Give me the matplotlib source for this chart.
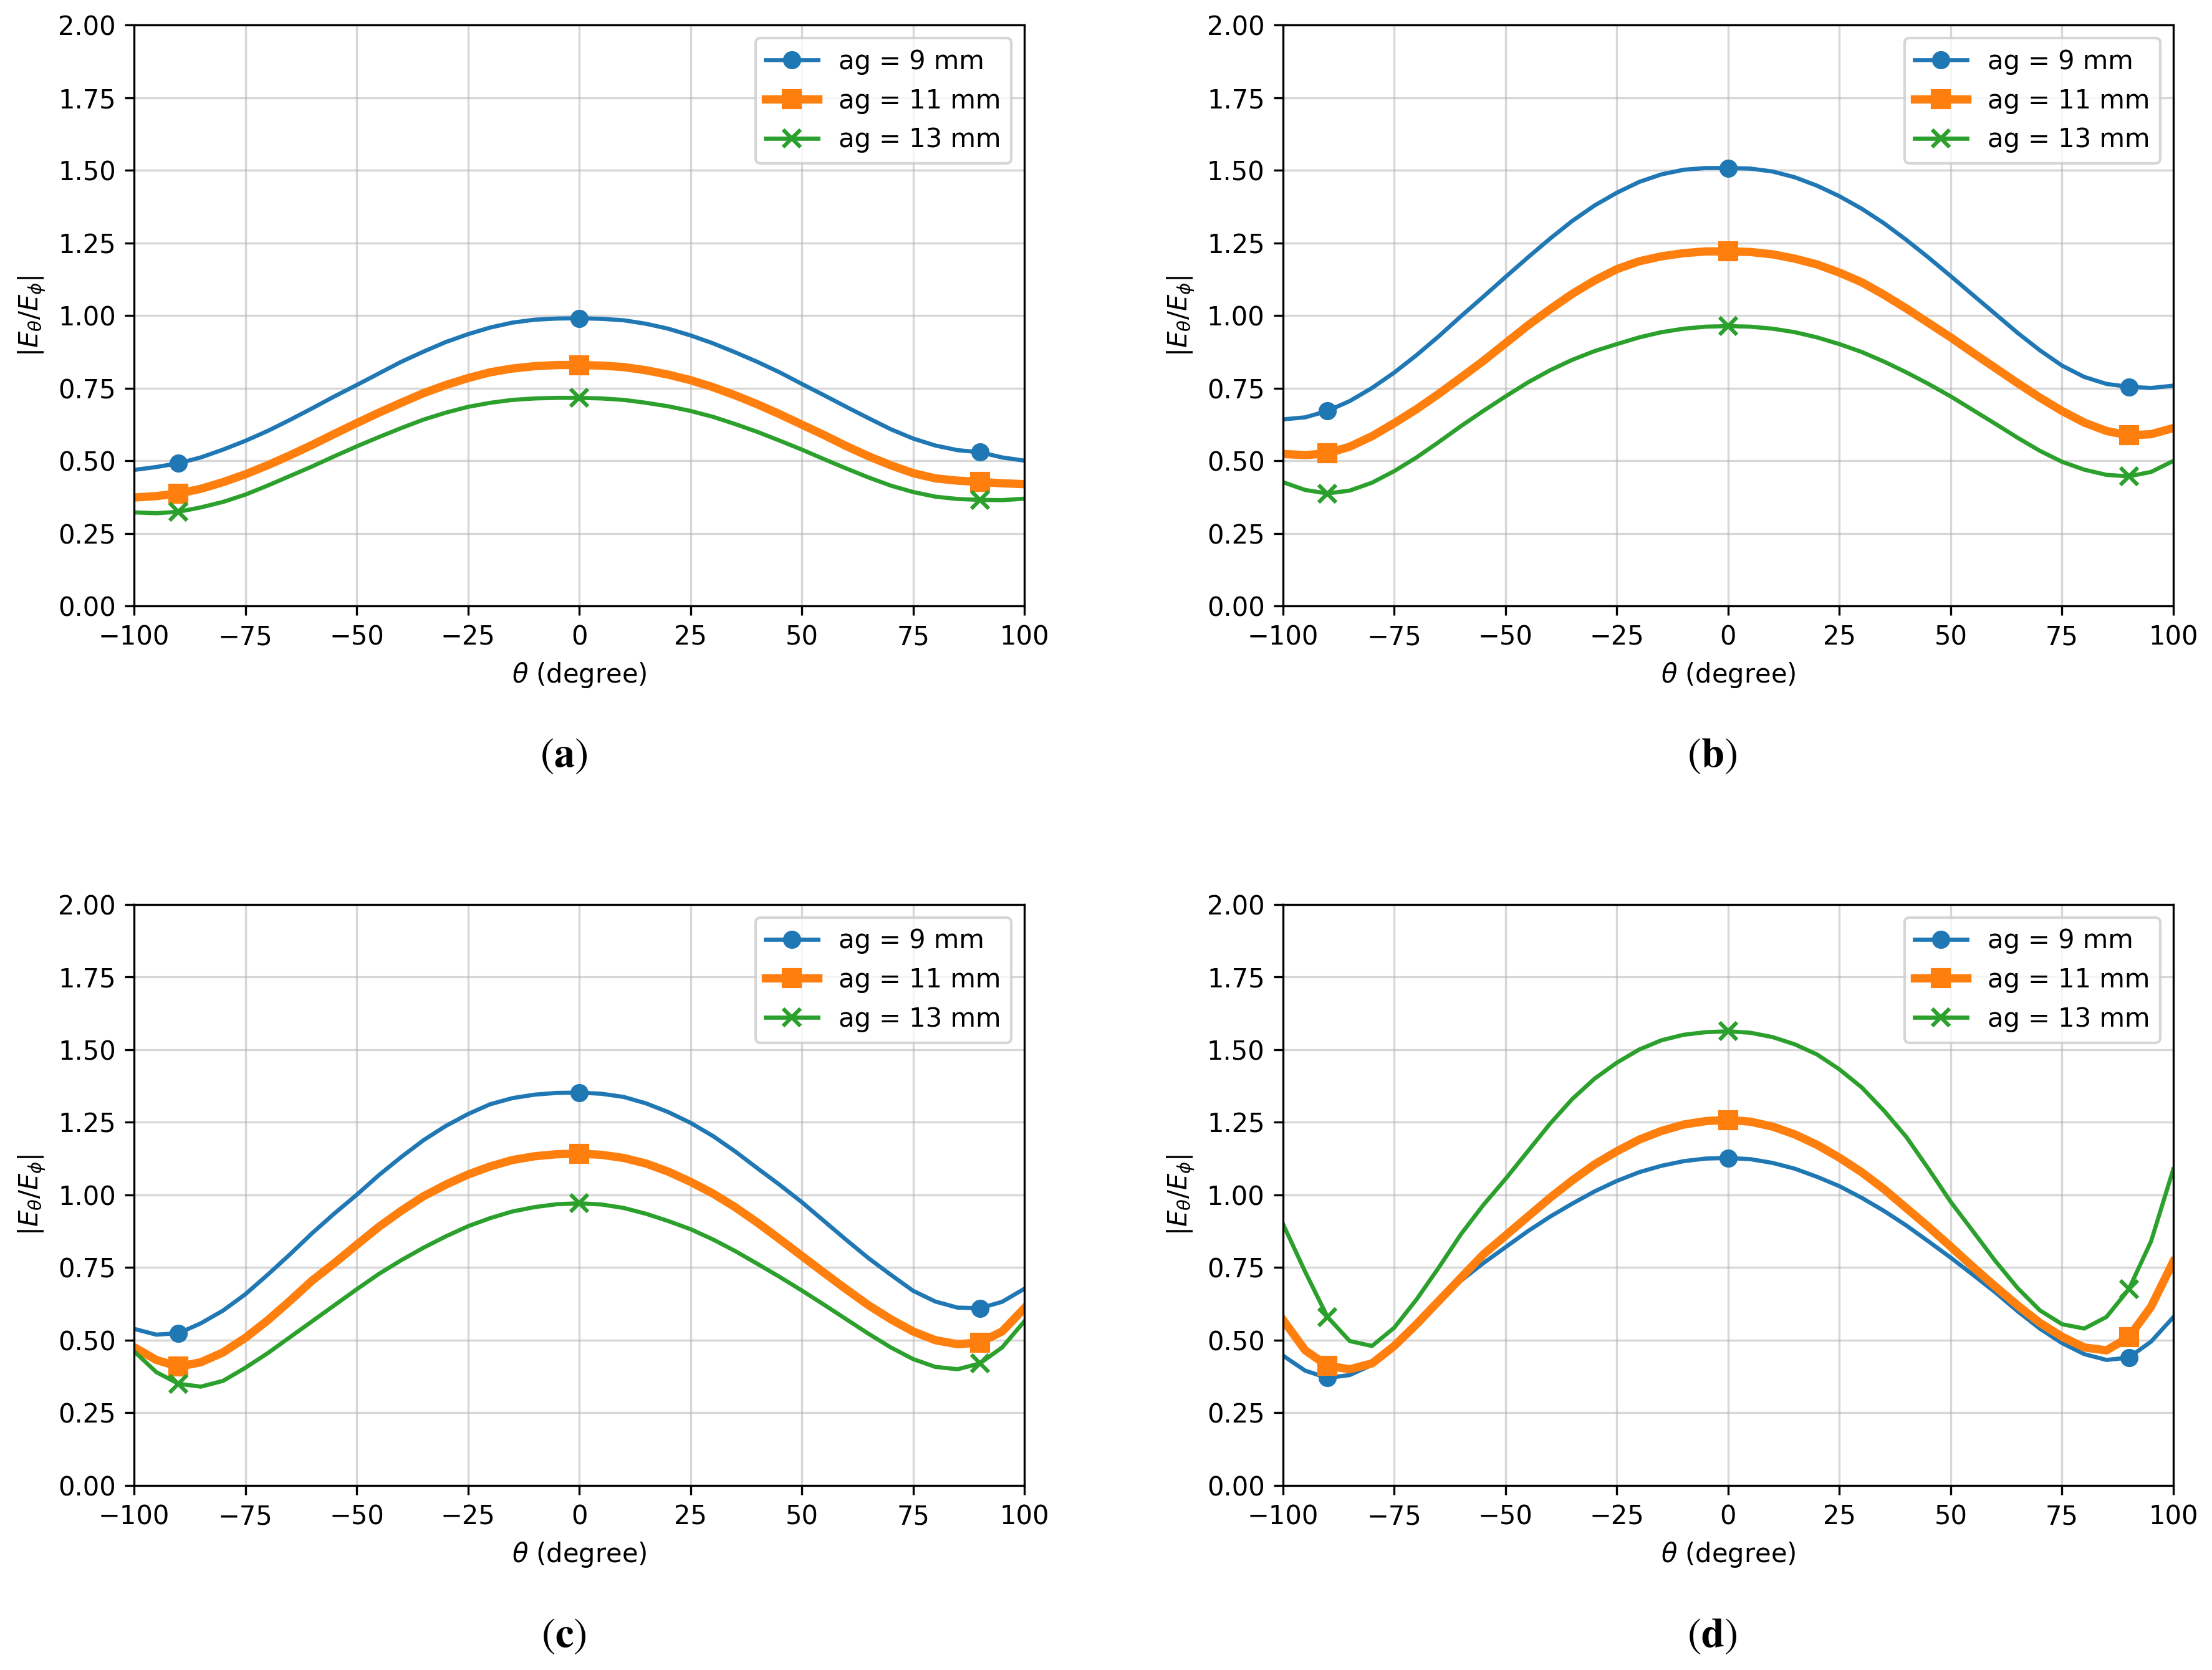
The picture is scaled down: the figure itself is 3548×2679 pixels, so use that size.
"""
Relación |E_theta / E_phi| frente a theta para tres valores de ag (paneles a-d)
"""

import matplotlib
matplotlib.use('Agg')
import matplotlib.pyplot as plt


# Ángulos muestreados cada 5 grados, de -100 a 100
theta = list(range(-100, 105, 5))

labels = ['ag = 9 mm', 'ag = 11 mm', 'ag = 13 mm']
panel_tags = ['a', 'b', 'c', 'd']

# Panel (a)
a_9mm = [0.469, 0.479, 0.492, 0.512, 0.539, 0.569, 0.603, 0.641, 0.681, 0.722,
         0.761, 0.801, 0.841, 0.876, 0.909, 0.936, 0.959, 0.976, 0.986, 0.990,
         0.991,
         0.989, 0.984, 0.972, 0.955, 0.932, 0.905, 0.874, 0.841, 0.805, 0.765,
         0.726, 0.686, 0.647, 0.609, 0.577, 0.553, 0.537, 0.530, 0.512, 0.501]
a_11mm = [0.374, 0.379, 0.388, 0.404, 0.427, 0.454, 0.485, 0.519, 0.555, 0.593,
          0.630, 0.666, 0.700, 0.733, 0.761, 0.785, 0.805, 0.818, 0.826, 0.830,
          0.830,
          0.828, 0.823, 0.812, 0.797, 0.778, 0.754, 0.726, 0.695, 0.661, 0.625,
          0.589, 0.551, 0.516, 0.485, 0.458, 0.440, 0.432, 0.428, 0.423, 0.420]
a_13mm = [0.323, 0.320, 0.325, 0.340, 0.359, 0.384, 0.415, 0.448, 0.481, 0.516,
          0.550, 0.582, 0.613, 0.642, 0.666, 0.686, 0.700, 0.710, 0.715, 0.717,
          0.717,
          0.715, 0.710, 0.700, 0.688, 0.672, 0.652, 0.627, 0.600, 0.570, 0.539,
          0.506, 0.474, 0.443, 0.415, 0.393, 0.377, 0.369, 0.366, 0.365, 0.370]

# Panel (b)
b_9mm = [0.643, 0.650, 0.672, 0.706, 0.751, 0.804, 0.864, 0.929, 0.998, 1.065,
         1.133, 1.200, 1.265, 1.326, 1.379, 1.423, 1.460, 1.486, 1.502, 1.508,
         1.508,
         1.506, 1.496, 1.476, 1.447, 1.411, 1.368, 1.318, 1.261, 1.200, 1.136,
         1.071, 1.006, 0.941, 0.881, 0.828, 0.789, 0.765, 0.755, 0.751, 0.759]
b_11mm = [0.524, 0.520, 0.526, 0.549, 0.585, 0.630, 0.678, 0.731, 0.787, 0.844,
          0.905, 0.966, 1.022, 1.075, 1.121, 1.160, 1.187, 1.204, 1.215, 1.221,
          1.221,
          1.219, 1.211, 1.196, 1.176, 1.148, 1.115, 1.072, 1.025, 0.975, 0.925,
          0.872, 0.820, 0.768, 0.718, 0.672, 0.632, 0.603, 0.588, 0.592, 0.613]
b_13mm = [0.427, 0.400, 0.388, 0.398, 0.425, 0.465, 0.512, 0.565, 0.620, 0.672,
          0.722, 0.770, 0.812, 0.848, 0.878, 0.902, 0.925, 0.943, 0.955, 0.962,
          0.964,
          0.962, 0.955, 0.943, 0.925, 0.902, 0.875, 0.842, 0.805, 0.765, 0.722,
          0.675, 0.628, 0.580, 0.535, 0.497, 0.470, 0.452, 0.447, 0.462, 0.500]

# Panel (c)
c_9mm = [0.539, 0.519, 0.524, 0.558, 0.602, 0.658, 0.725, 0.795, 0.868, 0.936,
         1.000, 1.068, 1.130, 1.188, 1.237, 1.278, 1.312, 1.333, 1.345, 1.351,
         1.352,
         1.348, 1.337, 1.315, 1.285, 1.248, 1.203, 1.150, 1.092, 1.035, 0.975,
         0.910, 0.845, 0.782, 0.725, 0.670, 0.633, 0.612, 0.610, 0.632, 0.677]
c_11mm = [0.476, 0.432, 0.409, 0.424, 0.458, 0.508, 0.568, 0.635, 0.705, 0.765,
          0.828, 0.890, 0.945, 0.995, 1.035, 1.070, 1.098, 1.120, 1.133, 1.140,
          1.142,
          1.138, 1.127, 1.108, 1.080, 1.045, 1.005, 0.958, 0.905, 0.848, 0.790,
          0.732, 0.675, 0.620, 0.572, 0.530, 0.500, 0.486, 0.492, 0.530, 0.610]
c_13mm = [0.462, 0.390, 0.350, 0.340, 0.360, 0.405, 0.455, 0.510, 0.565, 0.620,
          0.675, 0.728, 0.775, 0.818, 0.857, 0.892, 0.920, 0.943, 0.958, 0.968,
          0.971,
          0.967, 0.955, 0.935, 0.910, 0.882, 0.847, 0.807, 0.763, 0.718, 0.671,
          0.622, 0.572, 0.522, 0.475, 0.435, 0.408, 0.400, 0.420, 0.475, 0.565]

# Panel (d)
d_9mm = [0.447, 0.395, 0.370, 0.380, 0.415, 0.485, 0.560, 0.635, 0.705, 0.765,
         0.820, 0.875, 0.925, 0.970, 1.012, 1.048, 1.078, 1.100, 1.116, 1.125,
         1.127,
         1.123, 1.110, 1.090, 1.062, 1.030, 0.990, 0.945, 0.895, 0.840, 0.784,
         0.725, 0.665, 0.600, 0.540, 0.490, 0.452, 0.432, 0.440, 0.495, 0.579]
d_11mm = [0.570, 0.465, 0.412, 0.400, 0.420, 0.480, 0.555, 0.635, 0.715, 0.795,
          0.860, 0.925, 0.990, 1.050, 1.105, 1.150, 1.190, 1.220, 1.242, 1.254,
          1.258,
          1.252, 1.235, 1.208, 1.172, 1.128, 1.078, 1.020, 0.955, 0.890, 0.822,
          0.752, 0.685, 0.620, 0.560, 0.512, 0.475, 0.465, 0.510, 0.615, 0.770]
d_13mm = [0.900, 0.735, 0.580, 0.497, 0.480, 0.543, 0.640, 0.750, 0.865, 0.965,
          1.055, 1.150, 1.245, 1.330, 1.400, 1.455, 1.500, 1.532, 1.551, 1.560,
          1.563,
          1.558, 1.543, 1.518, 1.483, 1.432, 1.370, 1.290, 1.200, 1.090, 0.976,
          0.875, 0.773, 0.680, 0.603, 0.555, 0.540, 0.580, 0.675, 0.840, 1.088]

panels = [
    (a_9mm, a_11mm, a_13mm),
    (b_9mm, b_11mm, b_13mm),
    (c_9mm, c_11mm, c_13mm),
    (d_9mm, d_11mm, d_13mm),
]

# Marcadores solo en -90, 0 y 90 grados
mark_idx = [theta.index(-90), theta.index(0), theta.index(90)]


def draw_panel(ax, series):
    """
    Dibuja las tres curvas de un panel
    """
    ax.plot(theta, series[0], color='#1f77b4', lw=1.6, marker='o', ms=6,
            markevery=mark_idx, label=labels[0])
    ax.plot(theta, series[1], color='#ff7f0e', lw=3.2, marker='s', ms=6.5,
            markevery=mark_idx, label=labels[1])
    ax.plot(theta, series[2], color='#2ca02c', lw=1.6, marker='x', ms=6.5,
            mew=1.5, markevery=mark_idx, label=labels[2])

    ax.set_xlim(-100, 100)
    ax.set_ylim(0, 2)
    ax.set_xticks(range(-100, 101, 25))
    ax.set_yticks([i * 0.25 for i in range(9)])
    ax.set_xlabel(r'$\theta$ (degree)')
    ax.set_ylabel(r'$|E_\theta/E_\phi|$')
    ax.grid(True, alpha=0.5)
    ax.legend(loc='upper right')


if __name__ == "__main__":
    fig = plt.figure(figsize=(3548 / 300, 2679 / 300), dpi=300)

    # posiciones [izq, abajo, ancho, alto] en fracción de figura
    lefts = [0.0606, 0.580, 0.0606, 0.580]
    bottoms = [0.637, 0.637, 0.1105, 0.1105]
    tag_pos = [(0.255, 0.548), (0.774, 0.548), (0.255, 0.021), (0.774, 0.021)]

    for i, series in enumerate(panels):
        ax = fig.add_axes([lefts[i], bottoms[i], 0.4025, 0.348])
        draw_panel(ax, series)
        fig.text(tag_pos[i][0], tag_pos[i][1], r'$(\mathbf{%s})$' % panel_tags[i],
                 ha='center', va='center', fontsize=16, math_fontfamily='stix')

    plt.savefig('out.png', dpi=300)
